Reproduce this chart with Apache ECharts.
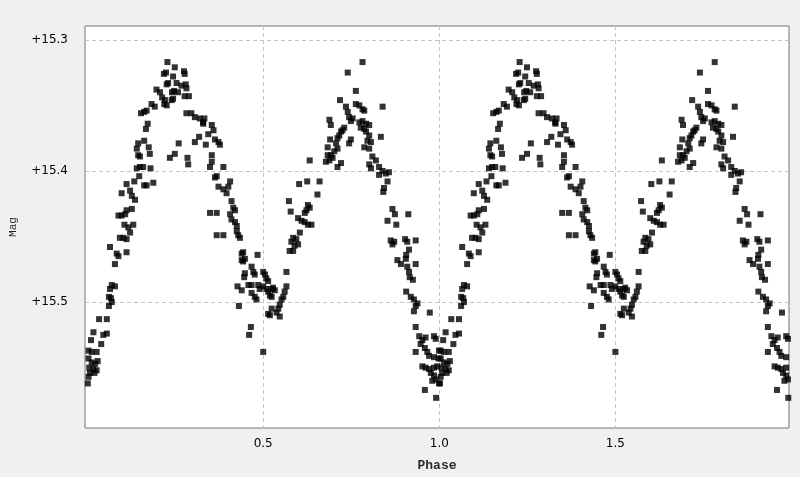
<!DOCTYPE html>
<html>
<head>
<meta charset="utf-8">
<script src="https://cdn.jsdelivr.net/npm/echarts@6/dist/echarts.min.js"></script>
<style>
html,body{margin:0;padding:0;background:#f0f0f0;}
#chart{width:800px;height:477px;}
</style>
</head>
<body>
<div id="chart"></div>
<script>
// Phase-folded light curve (one cycle, phase 0..1); plotted twice (0..2)
const phase = [
0.228,0.249,0.218,0.224,0.244,0.275,0.277,0.230,0.226,0.254,0.268,0.280,0.282,0.197,0.207,0.247,0.241,0.258,0.277,0.289,
0.213,0.221,0.226,0.219,0.244,0.240,0.183,0.192,0.162,0.153,0.169,0.282,0.296,0.306,0.320,0.329,0.172,0.167,0.162,0.145,
0.141,0.145,0.150,0.175,0.178,0.260,0.249,0.235,0.285,0.287,0.306,0.318,0.141,0.150,0.159,0.180,0.148,0.134,0.112,0.162,
0.169,0.188,0.098,0.122,0.127,0.136,0.112,0.127,0.089,0.098,0.108,0.106,0.131,0.117,0.122,0.093,0.103,0.112,0.065,0.084,
0.089,0.112,0.079,0.070,0.079,0.065,0.062,0.068,0.070,0.062,0.034,0.056,0.018,0.011,0.046,0.056,0.040,0.004,0.013,0.027,
0.004,0.013,0.023,0.030,0.006,0.018,0.027,0.008,0.021,0.004,0.002,
0.333,0.330,0.354,0.359,0.344,0.363,0.373,0.377,0.337,0.354,0.354,0.349,0.387,0.368,0.363,0.406,0.401,0.373,0.387,0.396,
0.410,0.415,0.420,0.349,0.368,0.406,0.410,0.420,0.425,
0.632,0.602,0.625,0.660,0.654,0.573,0.578,0.627,0.632,0.623,0.618,0.599,0.609,0.618,0.627,0.637,
0.425,0.429,0.434,0.368,0.387,0.443,0.439,0.448,0.443,0.439,0.484,0.467,0.472,0.476,0.448,0.446,0.500,0.505,0.509,0.514,
0.458,0.467,0.486,0.490,0.427,0.439,0.500,0.509,0.514,0.524,0.528,0.533,0.519,0.524,0.467,0.476,0.481,0.566,0.566,0.561,
0.557,0.552,0.547,0.543,0.431,0.524,0.519,0.514,0.538,0.547,0.465,0.460,0.500,
0.604,0.585,0.594,0.580,0.599,0.589,0.575,0.585,
0.782,0.740,0.763,0.718,0.763,0.773,0.782,0.787,0.839,0.735,0.740,0.744,0.749,0.754,0.688,0.692,0.773,0.782,0.792,0.801,
0.777,0.787,0.730,0.725,0.721,0.716,0.711,0.792,0.801,0.796,0.806,0.787,0.801,0.834,0.749,0.744,0.690,0.683,0.707,0.711,
0.702,0.692,0.683,0.697,0.678,0.688,0.721,0.711,0.810,0.820,0.801,0.806,0.829,0.839,0.829,0.848,0.857,0.853,0.843,0.841,
0.867,0.874,0.912,0.853,0.878,
0.862,0.872,0.867,0.903,0.909,0.933,0.914,0.906,0.905,0.881,0.891,0.909,0.933,0.914,0.916,0.925,0.906,0.919,0.928,0.938,
0.933,0.928,0.973,0.933,0.943,0.952,0.961,0.985,0.990,0.947,0.959,0.933,0.966,0.999,0.971,0.985,0.998,0.952,0.961,0.971,
0.985,0.994,0.976,0.985,0.990,0.980,0.999,0.959,0.991
];
const mag = [
15.317,15.321,15.326,15.325,15.328,15.324,15.326,15.333,15.334,15.333,15.335,15.334,15.337,15.338,15.340,15.339,15.340,15.340,15.343,15.343,
15.344,15.346,15.350,15.349,15.345,15.346,15.349,15.351,15.355,15.356,15.354,15.356,15.356,15.359,15.360,15.363,15.364,15.368,15.377,15.379,
15.383,15.388,15.389,15.382,15.387,15.379,15.387,15.390,15.390,15.395,15.378,15.374,15.398,15.397,15.397,15.398,15.404,15.408,15.410,15.411,
15.411,15.409,15.417,15.415,15.419,15.422,15.430,15.429,15.434,15.434,15.433,15.441,15.441,15.443,15.447,15.451,15.451,15.452,15.458,15.463,
15.465,15.462,15.471,15.487,15.488,15.490,15.496,15.497,15.500,15.503,15.513,15.513,15.523,15.529,15.525,15.524,15.532,15.537,15.538,15.538,
15.543,15.546,15.547,15.545,15.550,15.551,15.552,15.554,15.554,15.557,15.562,
15.360,15.364,15.365,15.369,15.372,15.376,15.378,15.380,15.380,15.388,15.393,15.397,15.397,15.404,15.405,15.408,15.412,15.412,15.414,15.417,
15.423,15.428,15.430,15.432,15.432,15.433,15.437,15.439,15.442,
15.392,15.410,15.408,15.408,15.418,15.423,15.431,15.426,15.428,15.430,15.432,15.436,15.438,15.439,15.441,15.441,
15.446,15.449,15.451,15.449,15.449,15.462,15.463,15.467,15.469,15.468,15.464,15.473,15.477,15.479,15.478,15.481,15.477,15.479,15.482,15.484,
15.487,15.487,15.487,15.490,15.488,15.491,15.488,15.490,15.492,15.490,15.489,15.491,15.495,15.496,15.493,15.496,15.498,15.477,15.488,15.492,
15.496,15.498,15.502,15.505,15.503,15.505,15.510,15.509,15.508,15.511,15.519,15.525,15.538,
15.447,15.451,15.452,15.454,15.456,15.457,15.461,15.461,
15.317,15.325,15.339,15.346,15.349,15.350,15.353,15.354,15.351,15.351,15.355,15.359,15.362,15.360,15.361,15.365,15.363,15.362,15.364,15.365,
15.367,15.368,15.367,15.369,15.370,15.373,15.375,15.370,15.373,15.377,15.378,15.382,15.383,15.374,15.376,15.379,15.376,15.382,15.379,15.383,
15.385,15.388,15.388,15.390,15.393,15.392,15.394,15.397,15.389,15.392,15.395,15.398,15.397,15.400,15.403,15.402,15.401,15.408,15.413,15.416,
15.429,15.433,15.433,15.438,15.441,
15.453,15.454,15.456,15.452,15.454,15.453,15.460,15.464,15.467,15.468,15.471,15.473,15.471,15.477,15.481,15.483,15.492,15.496,15.498,15.501,
15.503,15.507,15.508,15.519,15.526,15.529,15.527,15.526,15.528,15.532,15.535,15.538,15.538,15.537,15.541,15.542,15.543,15.549,15.550,15.551,
15.550,15.549,15.554,15.556,15.559,15.560,15.562,15.567,15.573
];
const xTicks = [0.5, 1.0, 1.5];
const yTicks = [15.3, 15.4, 15.5];

const points = [];
for (let c = 0; c < 2; c++) {
  for (let i = 0; i < phase.length; i++) points.push([phase[i] + c, mag[i]]);
}

const chart = echarts.init(document.getElementById('chart'), null, {renderer: 'canvas'});
const gridLine = {show: true, lineStyle: {color: '#c4c4c4', type: [4, 3], width: 1}};
chart.setOption({
  backgroundColor: '#f0f0f0',
  animation: false,
  grid: {left: 83, right: 11, top: 26, bottom: 44, show: true, backgroundColor: '#ffffff', borderColor: '#767676', borderWidth: 1},
  xAxis: {
    type: 'value', min: -0.006, max: 1.993,
    name: 'Phase', nameLocation: 'middle', nameGap: 31,
    nameTextStyle: {fontFamily: 'Liberation Mono', fontWeight: 'bold', fontSize: 13, color: '#2a2a2a'},
    axisLine: {show: false}, axisTick: {show: false, customValues: xTicks},
    axisLabel: {customValues: xTicks, formatter: v => v.toFixed(1), color: '#000', fontFamily: 'DejaVu Sans', fontSize: 12, margin: 10},
    splitLine: gridLine
  },
  yAxis: {
    type: 'value', inverse: true, min: 15.2895, max: 15.596,
    name: 'Mag', nameLocation: 'middle', nameGap: 66, nameRotate: 90,
    nameTextStyle: {fontFamily: 'Liberation Mono', fontSize: 11, color: '#222'},
    axisLine: {show: false}, axisTick: {show: false, customValues: yTicks},
    axisLabel: {customValues: yTicks, formatter: v => '+' + v.toFixed(1), color: '#000', fontFamily: 'DejaVu Sans', fontSize: 12, margin: 17},
    splitLine: gridLine
  },
  series: [{
    type: 'scatter', data: points, symbol: 'rect', symbolSize: 6,
    itemStyle: {color: '#000000'}, clip: true
  }]
});
</script>
</body>
</html>
